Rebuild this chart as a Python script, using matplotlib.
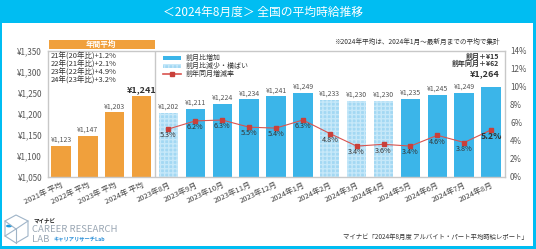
import matplotlib
matplotlib.use("Agg")
import matplotlib.pyplot as plt
from matplotlib.patches import Rectangle, Polygon, Circle
from matplotlib.lines import Line2D
import matplotlib.transforms as mtransforms

plt.rcParams['font.family'] = ['Noto Sans CJK JP', 'DejaVu Sans']
plt.rcParams['hatch.linewidth'] = 1.0

# data
categories = ['2021年 平均', '2022年 平均', '2023年 平均', '2024年 平均',
              '2023年8月', '2023年9月', '2023年10月', '2023年11月', '2023年12月',
              '2024年1月', '2024年2月', '2024年3月', '2024年4月', '2024年5月',
              '2024年6月', '2024年7月', '2024年8月']
annual_wage = [1123, 1147, 1203, 1241]
monthly_wage = [1202, 1211, 1224, 1234, 1241, 1249, 1233, 1230, 1230, 1235, 1245, 1249, 1264]
monthly_down = [True, False, False, False, False, False, True, True, True, False, False, False, False]
yoy_rate = [5.3, 6.2, 6.3, 5.5, 5.4, 6.3, 4.8, 3.4, 3.6, 3.4, 4.6, 3.8, 5.2]
annual_notes = ['21年(20年比)+1.2%', '22年(21年比)+2.1%', '23年(22年比)+4.9%', '24年(23年比)+3.2%']
legend_labels = ['前月比増加', '前月比減少・横ばい', '前年同月増減率']
wage_ticks = [1050, 1100, 1150, 1200, 1250, 1300, 1350]
rate_ticks = [0, 2, 4, 6, 8, 10, 12, 14]

W, H = 536, 249
CYAN = '#00BDF2'
ORANGE = '#F0A03C'
BLUE = '#3BB5E9'
LIGHT = '#A3D8F3'
HATCH = '#C6E8F9'
RED = '#D9544F'
GRID = '#C8C8C8'
TXT = '#333333'


def px(x, y):
    return (x / W, 1 - y / H)


fig = plt.figure(figsize=(W / 100, H / 100), dpi=100, facecolor=CYAN)

# white panel and title bar
x0, y0 = px(2, 246)
x1, y1 = px(533, 23)
fig.patches.append(Rectangle((x0, y0), x1 - x0, y1 - y0, transform=fig.transFigure,
                             facecolor='white', edgecolor='none', zorder=-5))
fig.text(0.49, 1 - 12.5 / H, '＜2024年8月度＞ 全国の平均時給推移', color='white',
         fontsize=8.5, ha='center', va='center')

ax = fig.add_axes([47.5 / W, 1 - 176.7 / H, 457 / W, 126 / H])
ax.set_facecolor('none')
n_annual = len(annual_wage)
xs_annual = list(range(n_annual))
xs_month = [n_annual + i for i in range(len(monthly_wage))]

ax.bar(xs_annual, [v - 1050 for v in annual_wage], bottom=1050, width=0.72,
       color=ORANGE, zorder=2)
for x, v, d in zip(xs_month, monthly_wage, monthly_down):
    if d:
        ax.bar(x, v - 1050, bottom=1050, width=0.72, color=LIGHT, edgecolor=HATCH,
               hatch='++++', linewidth=0, zorder=2)
    else:
        ax.bar(x, v - 1050, bottom=1050, width=0.72, color=BLUE, zorder=2)

ax.set_xlim(-0.5, len(categories) - 0.5)
ax.set_ylim(1050, 1350)
ax.set_yticks(wage_ticks)
ax.set_yticklabels(['¥{:,}'.format(v) for v in wage_ticks])
ax.tick_params(axis='y', length=0, pad=4, labelsize=5.8, labelcolor='#555555')
ax.set_xticks(range(len(categories)))
ax.set_xticklabels(categories, rotation=25, ha='right', rotation_mode='anchor')
ax.tick_params(axis='x', length=0, pad=3, labelsize=5.5, labelcolor='#444444')
for s in ax.spines.values():
    s.set_color(GRID)
    s.set_linewidth(1)
ax.axvline(n_annual - 0.5, color=GRID, lw=1, zorder=1)

# value labels on bars
all_wage = annual_wage + monthly_wage
for i, v in enumerate(all_wage):
    if i == n_annual - 1:
        ax.annotate('¥{:,}'.format(v), (i, v), xytext=(0, 1.5), textcoords='offset points',
                    ha='center', va='bottom', fontsize=6.5, fontweight='bold', color=TXT)
    elif i == len(all_wage) - 1:
        ax.annotate('¥{:,}'.format(v), (i + 0.3, v), xytext=(0, 6), textcoords='offset points',
                    ha='right', va='bottom', fontsize=6.5, fontweight='bold', color=TXT)
        ax.annotate('前月＋¥{}\n前年同月＋¥{}'.format(v - monthly_wage[-2], v - monthly_wage[0]),
                    (i + 0.3, v), xytext=(0, 14), textcoords='offset points',
                    ha='right', va='bottom', fontsize=5, fontweight='bold', color=TXT,
                    linespacing=1.0)
    else:
        ax.annotate('¥{:,}'.format(v), (i, v), xytext=(0, 1.5), textcoords='offset points',
                    ha='center', va='bottom', fontsize=5, color='#555555')

# annual box header and notes
trans = mtransforms.blended_transform_factory(ax.transData, ax.transAxes)
ax.add_patch(Rectangle((-0.45, 1.012), n_annual - 0.05, 0.075, transform=trans,
                       facecolor=ORANGE, edgecolor='none', clip_on=False, zorder=3))
ax.text((n_annual - 1) / 2, 1.05, '年間平均', transform=trans, ha='center', va='center',
        fontsize=5.5, color='white', fontweight='bold', zorder=4)
ax.text(-0.38, (176.7 - 52) / 126, '\n'.join(annual_notes), transform=trans,
        ha='left', va='top', fontsize=5.4, color=TXT, linespacing=1.0)

ax.text(0.99, 1.07, '※2024年平均は、2024年1月～最新月までの平均で集計', transform=ax.transAxes,
        ha='right', va='center', fontsize=4.8, color=TXT)

# year-over-year line
ax2 = ax.twinx()
ax2.plot(xs_month, yoy_rate, color=RED, lw=0.8, marker='s', markersize=2.3,
         markerfacecolor='#C9403A', markeredgecolor='#C9403A', zorder=3)
ax2.set_ylim(0, 14)
ax2.set_yticks(rate_ticks)
ax2.set_yticklabels(['{}%'.format(v) for v in rate_ticks])
ax2.tick_params(axis='y', length=0, pad=4, labelsize=5.8, labelcolor='#555555')
for s in ax2.spines.values():
    s.set_visible(False)
for i, (x, r) in enumerate(zip(xs_month, yoy_rate)):
    last = i == len(yoy_rate) - 1
    ax2.annotate('{}%'.format(r), (x, r), xytext=(0, -4.5), textcoords='offset points',
                 ha='center', va='center', fontsize=6.2 if last else 5.2,
                 fontweight='bold' if last else 'normal', color=TXT)

# legend, drawn by hand in axes fraction
lx, lw_, lh = 0.253, 0.04, 0.035
for k, label in enumerate(legend_labels):
    cy = (176.7 - 58 - 8 * k) / 126
    if k == 0:
        ax2.add_patch(Rectangle((lx, cy - lh / 2), lw_, lh, transform=ax2.transAxes,
                                facecolor=BLUE, edgecolor='none', zorder=5))
    elif k == 1:
        ax2.add_patch(Rectangle((lx, cy - lh / 2), lw_, lh, transform=ax2.transAxes,
                                facecolor=LIGHT, edgecolor=HATCH, hatch='++++',
                                linewidth=0, zorder=5))
    else:
        ax2.plot([lx, lx + lw_], [cy, cy], transform=ax2.transAxes, color=RED, lw=1.2,
                 zorder=5)
        ax2.plot([lx + lw_ / 2], [cy], transform=ax2.transAxes, marker='s', markersize=3.5,
                 color='#C9403A', zorder=5)
    ax2.text(lx + lw_ + 0.01, cy, label, transform=ax2.transAxes, ha='left', va='center',
             fontsize=5, color=TXT, zorder=5)

# logo
fig.patches.append(Polygon([px(16, 215), px(28, 221), px(28, 236), px(16, 243),
                            px(5, 236), px(5, 221)], closed=True, transform=fig.transFigure,
                           fill=False, edgecolor='#9FB4C8', lw=0.8))
for a, b in [((16, 229), (28, 221)), ((16, 229), (5, 236)), ((16, 229), (16, 243)),
             ((5, 221), (16, 229))]:
    pa, pb = px(*a), px(*b)
    fig.lines.append(Line2D([pa[0], pb[0]], [pa[1], pb[1]], transform=fig.transFigure,
                            color='#9FB4C8', lw=0.8))
fig.patches.append(Circle(px(9, 226), 3 / W, transform=fig.transFigure,
                          facecolor='#1E9BE0', edgecolor='none'))
fig.text(*px(33, 220.5), 'マイナビ', fontsize=4, fontweight='bold', color='#222222',
         ha='left', va='center')
fig.text(*px(32, 229.5), 'CAREER RESEARCH', fontsize=6.9, color='#9AA7B4',
         ha='left', va='center')
fig.text(*px(32, 239), 'LAB', fontsize=6.9, color='#9AA7B4', ha='left', va='center')
fig.text(*px(54, 239.5), 'キャリアリサーチLab', fontsize=3.8, color='#2A8FD8',
         fontweight='bold', ha='left', va='center')

fig.text(*px(528, 237), 'マイナビ「2024年8月度 アルバイト・パート平均時給レポート」',
         fontsize=4.6, color=TXT, ha='right', va='center')

fig.savefig('out.png', dpi=100, facecolor=CYAN)
